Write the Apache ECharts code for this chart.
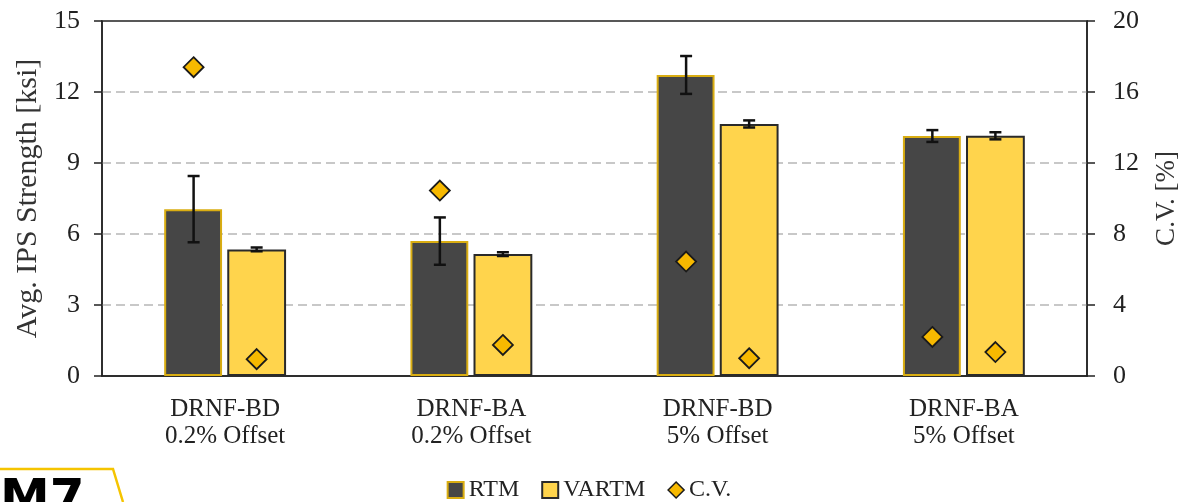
<!DOCTYPE html>
<html>
<head>
<meta charset="utf-8">
<script src="https://cdn.jsdelivr.net/npm/echarts@6/dist/echarts.min.js"></script>
<style>
  html, body { margin: 0; padding: 0; background: #fff; }
  #chart { width: 1178px; height: 502px; }
</style>
</head>
<body>
<div id="chart"></div>
<script>
// categories (two-line labels)
const categories = ['DRNF-BD\n0.2% Offset', 'DRNF-BA\n0.2% Offset', 'DRNF-BD\n5% Offset', 'DRNF-BA\n5% Offset'];
// avg strength [ksi] and std dev
const rtmStrength = [7.05, 5.70, 12.72, 10.14];
const rtmErr = [1.40, 1.00, 0.80, 0.25];
const vartmStrength = [5.35, 5.15, 10.65, 10.15];
const vartmErr = [0.08, 0.08, 0.15, 0.15];
// coefficient of variation [%]
const rtmCV = [17.4, 10.45, 6.45, 2.2];
const vartmCV = [0.95, 1.75, 1.0, 1.35];
const leftTicks = [0, 3, 6, 9, 12, 15];
const rightTicks = [0, 4, 8, 12, 16, 20];

const serif = '"Liberation Serif", "DejaVu Serif", serif';
const chart = echarts.init(document.getElementById('chart'));

const gridLeft = 102, gridRight = 91;
const band = (1178 - gridLeft - gridRight) / categories.length;
const off = band * 0.128;   // half of bar width + gap

function errRender(shift) {
  return function (params, api) {
    const i = api.value(0), v = api.value(1), e = api.value(2);
    const band = api.size([1, 0])[0];
    const x = api.coord([i, v])[0] + shift * band * 0.128;
    const hi = api.coord([i, v + e])[1];
    const lo = api.coord([i, v - e])[1];
    const s = { stroke: '#111', lineWidth: 2.5 };
    return {
      type: 'group',
      children: [
        { type: 'line', shape: { x1: x, y1: hi, x2: x, y2: lo }, style: s },
        { type: 'line', shape: { x1: x - 6, y1: hi, x2: x + 6, y2: hi }, style: s },
        { type: 'line', shape: { x1: x - 6, y1: lo, x2: x + 6, y2: lo }, style: s }
      ]
    };
  };
}

chart.setOption({
  animation: false,
  textStyle: { fontFamily: serif },
  grid: {
    left: gridLeft, right: gridRight, top: 21, bottom: 126,
    outerBoundsMode: 'none', containLabel: false,
    show: true, borderColor: '#222', borderWidth: 1.5, backgroundColor: 'transparent'
  },
  legend: {
    top: 478,
    left: 'center',
    padding: 0,
    itemWidth: 16, itemHeight: 16, itemGap: 22,
    textStyle: { fontFamily: serif, fontSize: 24, color: '#222' },
    data: [
      { name: 'RTM', icon: 'rect' },
      { name: 'VARTM', icon: 'rect' },
      { name: 'C.V.', icon: 'diamond', itemStyle: { borderWidth: 1.5 } }
    ]
  },
  xAxis: {
    type: 'category',
    data: categories,
    axisLine: { lineStyle: { color: '#222', width: 1.5 } },
    axisTick: { show: false },
    axisLabel: { color: '#222', fontSize: 25, lineHeight: 27, margin: 20, fontFamily: serif }
  },
  yAxis: [{
    type: 'value', min: 0, max: 15, interval: 3,
    name: 'Avg. IPS Strength [ksi]', nameLocation: 'middle', nameGap: 57, nameRotate: 90,
    nameTextStyle: { fontSize: 30, color: '#333', fontFamily: serif },
    axisLine: { show: true, lineStyle: { color: '#222', width: 1.5 } },
    axisTick: { show: true, inside: false, length: 8, lineStyle: { color: '#222', width: 1.5 } },
    axisLabel: { color: '#222', fontSize: 26, margin: 22, fontFamily: serif,
      formatter: v => leftTicks.includes(v) ? String(v) : '' },
    splitLine: { showMinLine: false, showMaxLine: false,
      lineStyle: { color: '#c8c8c8', type: [9, 5], width: 2 } }
  }, {
    type: 'value', min: 0, max: 20, interval: 4, position: 'right',
    name: 'C.V. [%]', nameLocation: 'middle', nameGap: 66, nameRotate: 90,
    nameTextStyle: { fontSize: 27, color: '#333', fontFamily: serif },
    axisLine: { show: true, lineStyle: { color: '#222', width: 1.5 } },
    axisTick: { show: true, inside: false, length: 8, lineStyle: { color: '#222', width: 1.5 } },
    axisLabel: { color: '#222', fontSize: 26, margin: 26, fontFamily: serif,
      formatter: v => rightTicks.includes(v) ? String(v) : '' },
    splitLine: { show: false }
  }],
  series: [
    {
      name: 'RTM', type: 'bar', data: rtmStrength,
      barWidth: '23.5%', barGap: '9%',
      itemStyle: { color: '#464646', borderColor: '#d9ad12', borderWidth: 2 }
    },
    {
      name: 'VARTM', type: 'bar', data: vartmStrength,
      itemStyle: { color: '#ffd44c', borderColor: '#2a2a2a', borderWidth: 2 }
    },
    {
      name: 'RTM err', type: 'custom', z: 5,
      data: rtmStrength.map((v, i) => [i, v, rtmErr[i]]),
      encode: { x: 0, y: 1 }, renderItem: errRender(-1)
    },
    {
      name: 'VARTM err', type: 'custom', z: 5,
      data: vartmStrength.map((v, i) => [i, v, vartmErr[i]]),
      encode: { x: 0, y: 1 }, renderItem: errRender(1)
    },
    {
      name: 'C.V.', type: 'scatter', yAxisIndex: 1, z: 6,
      data: rtmCV, symbol: 'diamond', symbolSize: 20, symbolOffset: [-off, 0],
      itemStyle: { color: '#f7b900', borderColor: '#1a1a1a', borderWidth: 1.8, opacity: 1 }
    },
    {
      name: 'C.V.', type: 'scatter', yAxisIndex: 1, z: 6,
      data: vartmCV, symbol: 'diamond', symbolSize: 20, symbolOffset: [off, 0],
      itemStyle: { color: '#f7b900', borderColor: '#1a1a1a', borderWidth: 1.8, opacity: 1 }
    }
  ],
  graphic: [
    { type: 'polyline', shape: { points: [[0, 469], [113, 469], [123, 502]] },
      style: { stroke: '#f5c400', lineWidth: 2.5, fill: null } },
    { type: 'text', left: 0, top: 476,
      style: { text: 'M7', font: '900 50px "DejaVu Sans"', fill: '#000' } }
  ]
});
</script>
</body>
</html>
